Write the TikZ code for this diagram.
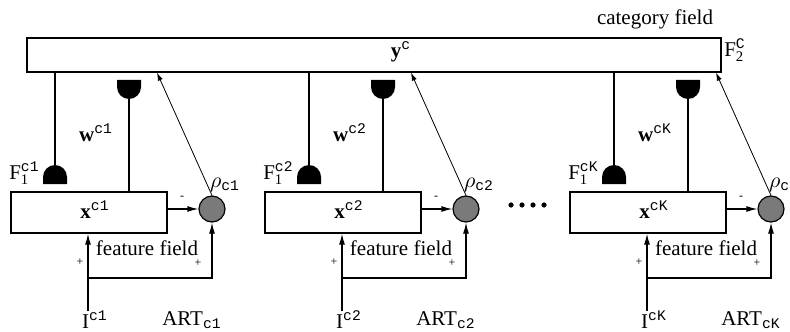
\documentclass[tikz,border=0pt]{standalone}
\usepackage{amsmath}
\usepackage{fontspec}
\setmainfont{Liberation Serif}
\setmonofont{Liberation Mono}
\usepackage{tikz}
\usetikzlibrary{arrows.meta,positioning,calc}
\definecolor{ARTGray}{HTML}{7A7A7A}
\newcommand{\chsup}[1]{\textsuperscript{\ttfamily #1}}
\tikzset{
  cupup/.pic={\fill (-12,0) -- (-12,-7) arc[start angle=180,end angle=360,radius=12] -- (12,0) -- cycle;
    \coordinate (-top) at (0,-19);},
  cupdown/.pic={\fill (-12,0) -- (-12,7) arc[start angle=180,end angle=0,radius=12] -- (12,0) -- cycle;
    \coordinate (-bot) at (0,19);}
}

\begin{document}
\begin{tikzpicture}[
    x=0.5pt,y=-0.5pt,
    font=\fontsize{10.5}{12}\selectfont,
    field/.style={draw, line width=0.7pt, inner sep=0pt},
    match/.style={draw, line width=0.6pt, circle, fill=ARTGray, minimum size=13pt, inner sep=0pt},
    wire/.style={line width=0.6pt},
    arr/.style={wire, -{Latex[length=5.5pt,width=3pt]}},
    reset/.style={line width=0.4pt, -{Latex[length=4pt,width=2.6pt]}},
    lbl/.style={inner sep=0pt},
    sgn/.style={inner sep=0pt, font=\fontsize{6}{6}\selectfont}
  ]
    \clip (0,0) rectangle (790,331);
    \node[field, minimum width=347pt, minimum height=17pt] (catbox) at (374,55) {};
    \node[lbl] (yc) at (401,52) {\textbf{y}\chsup{c}};
    \node[lbl] (cat) at (655,19) {category field};
    \node[lbl] (f2lbl) at (735,50) {$\mathrm{F}_{\mathrm{2}}^{\texttt{C}}$};

    \foreach \i/\dx in {1/0,2/254,K/559}{
      \node[field, minimum width=78pt, minimum height=20.5pt] (x\i) at (\dx+89,212.5) {};
      \node[lbl] (xl\i) at (\dx+95,210) {\textbf{x}\chsup{c\i}};
      \node[match] (r\i) at (\dx+212,209) {};
      \pic (f\i) at (\dx+55,184) {cupup};
      \pic (w\i) at (\dx+129,80) {cupdown};
      \draw[wire] (catbox.south -| f\i-top) -- (f\i-top);
      \draw[wire] (x\i.north -| w\i-bot) -- (w\i-bot);
      \draw[arr] (x\i.east |- r\i.west) -- (r\i.west);
      \coordinate (t\i) at (\dx+157,72);
      \draw[reset] (r\i.north) -- (t\i |- catbox.south);
      \coordinate (in\i) at (\dx+88,311);
      \draw[arr] (in\i) -- (in\i |- x\i.south);
      \draw[arr] ($(in\i)+(0,-33)$) -| (r\i.south);
      \node[lbl, anchor=east] (fl\i) at (\dx+40,173) {$\mathrm{F}_{\mathrm{1}}^{\texttt{c\i}}$};
      \node[lbl] (wl\i) at (\dx+96,133) {\textbf{w}\chsup{c\i}};
      \node[lbl] (rl\i) at (\dx+225,185) {$\rho_{\texttt{c\i}}$};
      \node[lbl] (ff\i) at (\dx+147,248) {feature field};
      \node[sgn] (p\i) at (\dx+80,262) {+};
      \node[sgn] (q\i) at (\dx+198,263) {+};
      \node[sgn] (m\i) at (\dx+182,198) {-};
      \node[lbl] (I\i) at (\dx+95,320) {I\chsup{c\i}};
      \node[lbl] (art\i) at (\dx+192,320) {ART\textsubscript{\ttfamily c\i}};
    }

    \foreach \d in {511,522,533,544}
      \fill (\d,205) circle (2.6);
  \end{tikzpicture}
\end{document}
